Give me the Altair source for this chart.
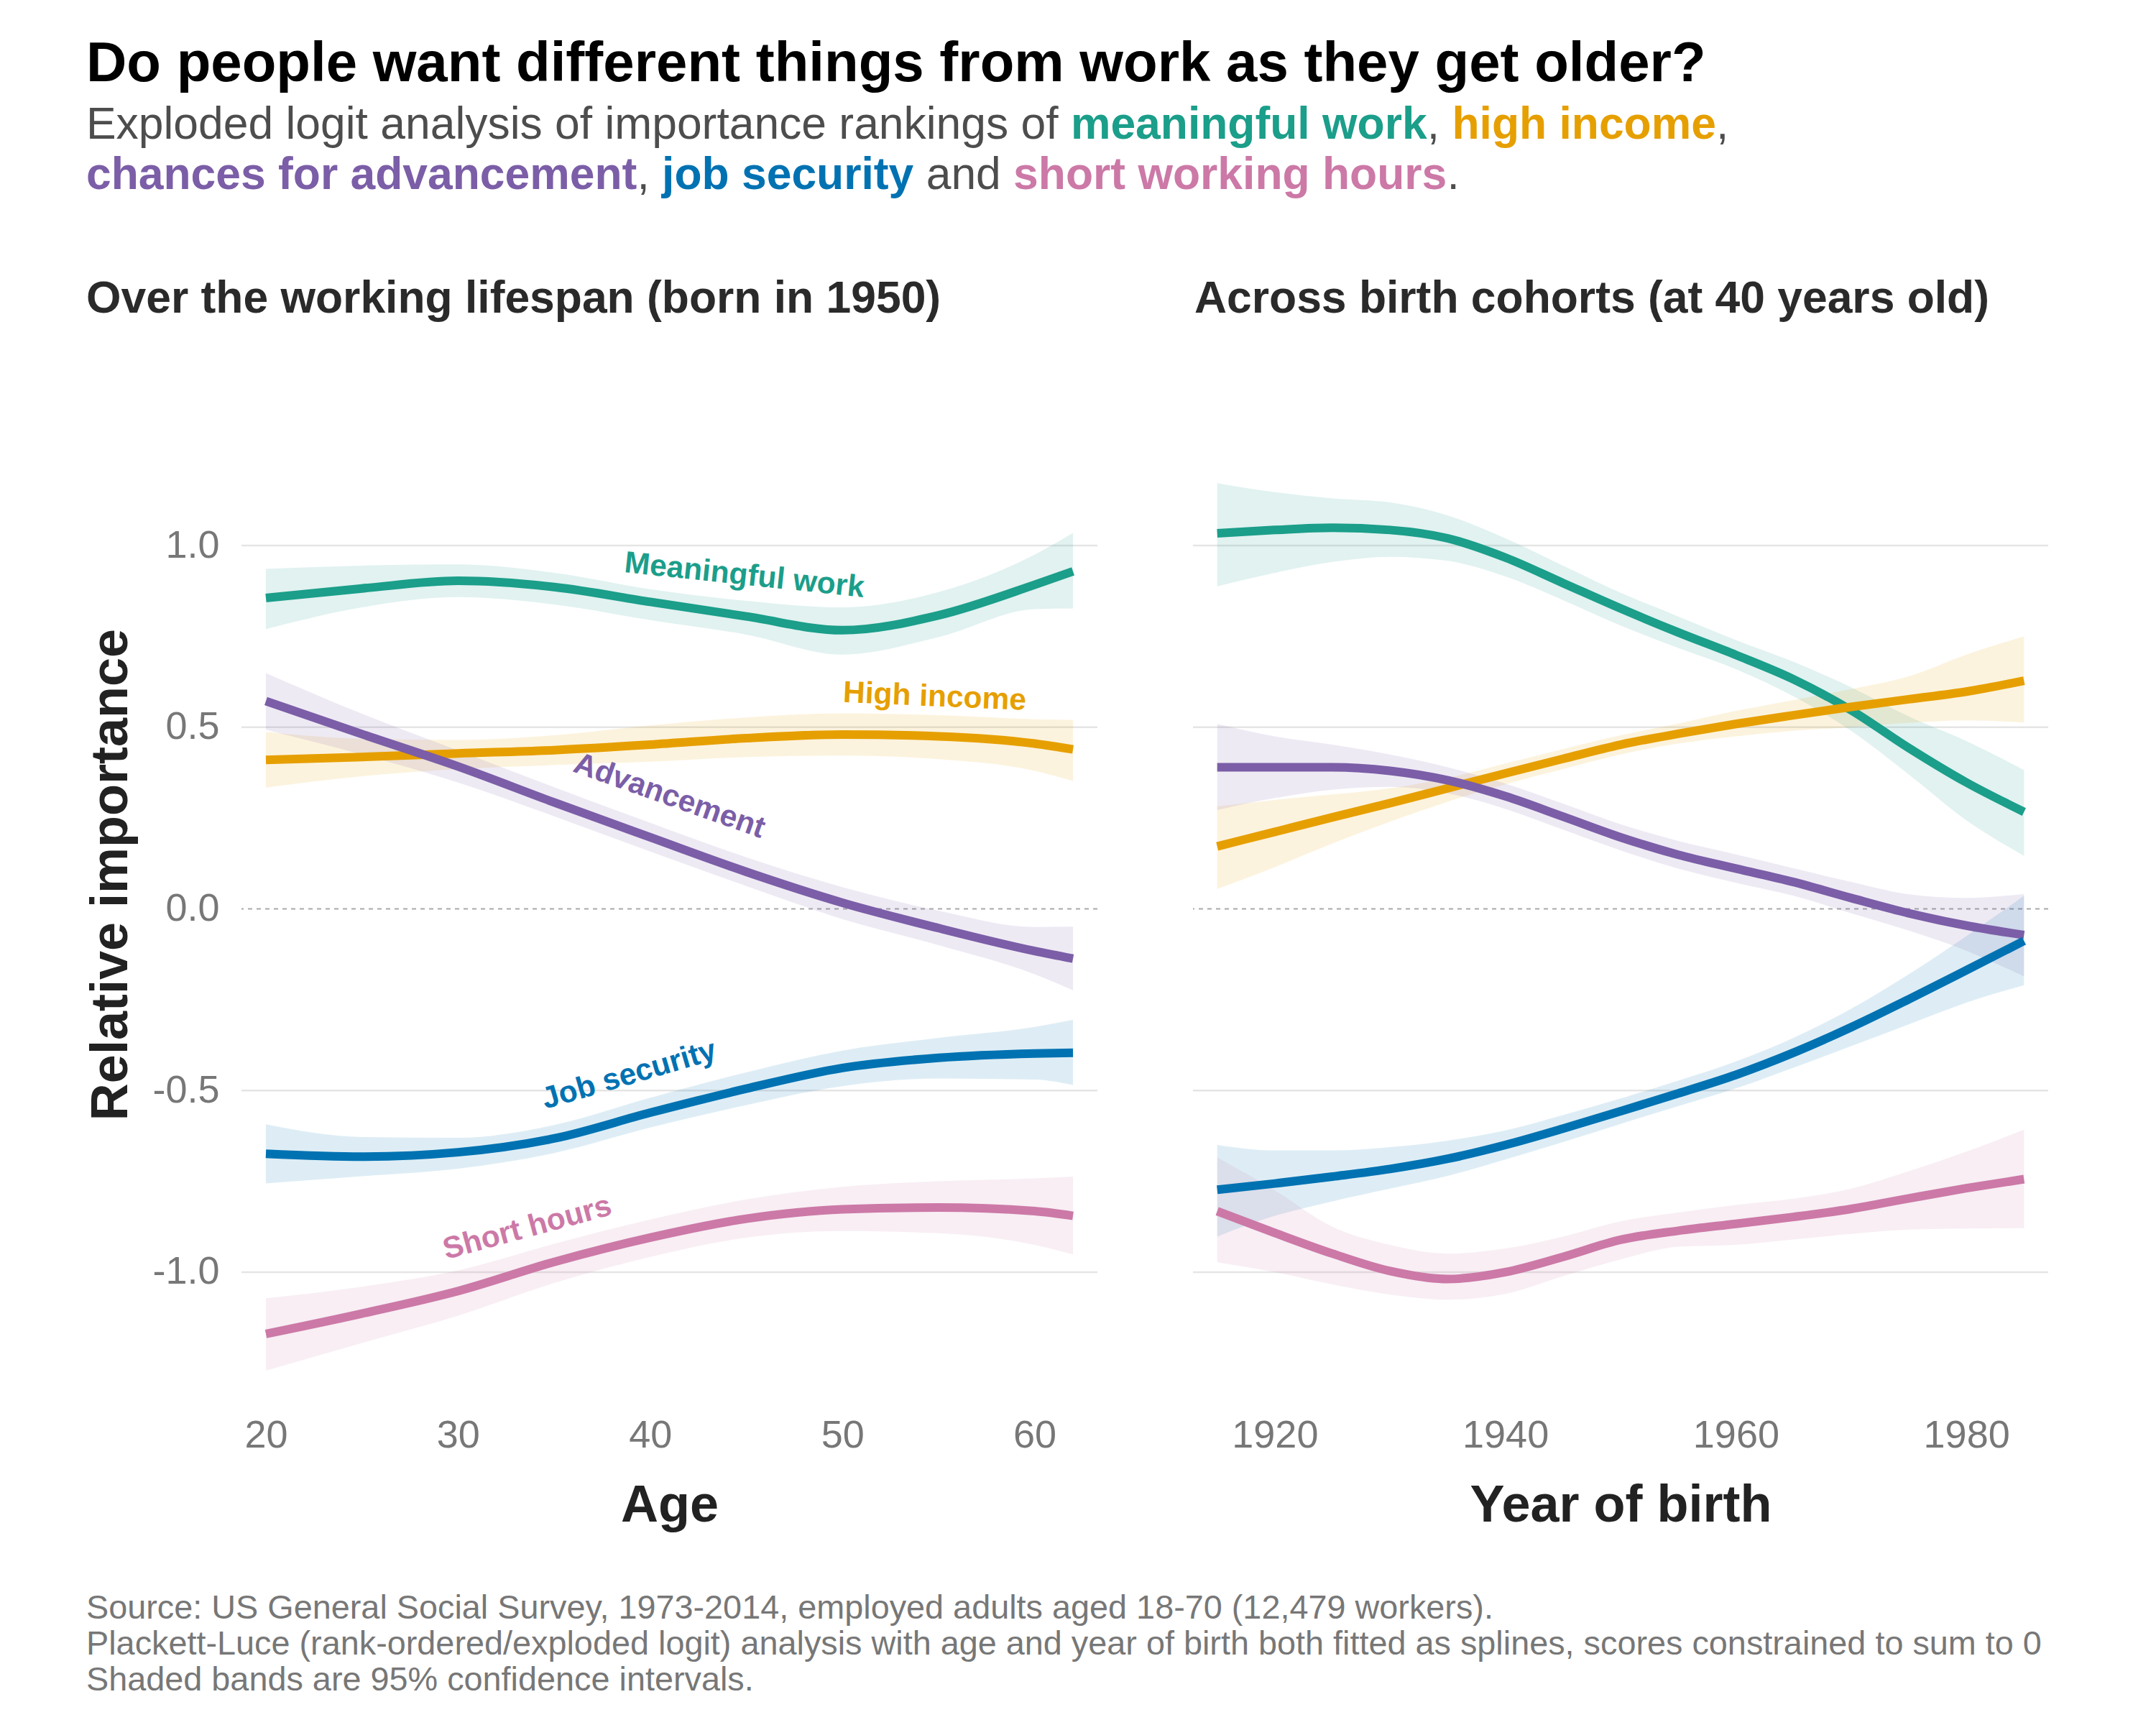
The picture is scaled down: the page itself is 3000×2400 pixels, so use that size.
import altair as alt
import pandas as pd

FONT = "Liberation Sans"

SERIES = ["Meaningful work", "High income", "Advancement", "Job security", "Short hours"]
COLORS = ["#1b9e8a", "#e69f00", "#7b5ea7", "#0072b2", "#cc79a7"]

# ---- Left panel: over the working lifespan (born in 1950) ----
AGES = [20, 25, 30, 35, 40, 45, 50, 55, 60, 62]

AGE_MEANINGFUL = [0.856, 0.882, 0.903, 0.886, 0.845, 0.805, 0.767, 0.808, 0.892, 0.929]
AGE_MEANINGFUL_LO = [0.770, 0.830, 0.858, 0.838, 0.795, 0.755, 0.700, 0.748, 0.825, 0.827]
AGE_MEANINGFUL_HI = [0.936, 0.945, 0.948, 0.925, 0.880, 0.848, 0.830, 0.872, 0.975, 1.035]

AGE_INCOME = [0.410, 0.418, 0.428, 0.437, 0.452, 0.470, 0.480, 0.475, 0.455, 0.439]
AGE_INCOME_LO = [0.334, 0.365, 0.385, 0.396, 0.405, 0.418, 0.422, 0.412, 0.380, 0.352]
AGE_INCOME_HI = [0.487, 0.468, 0.465, 0.478, 0.505, 0.527, 0.538, 0.533, 0.522, 0.520]

AGE_ADVANCE = [0.572, 0.481, 0.392, 0.293, 0.197, 0.102, 0.017, -0.053, -0.116, -0.137]
AGE_ADVANCE_LO = [0.493, 0.425, 0.348, 0.255, 0.158, 0.063, -0.028, -0.100, -0.180, -0.224]
AGE_ADVANCE_HI = [0.649, 0.537, 0.436, 0.335, 0.237, 0.142, 0.060, -0.005, -0.050, -0.049]

AGE_SECURITY = [-0.674, -0.682, -0.670, -0.632, -0.561, -0.495, -0.438, -0.410, -0.398, -0.396]
AGE_SECURITY_LO = [-0.756, -0.736, -0.715, -0.672, -0.602, -0.540, -0.488, -0.467, -0.470, -0.485]
AGE_SECURITY_HI = [-0.593, -0.628, -0.630, -0.595, -0.520, -0.450, -0.390, -0.355, -0.325, -0.305]

AGE_HOURS = [-1.170, -1.114, -1.052, -0.972, -0.905, -0.853, -0.827, -0.822, -0.832, -0.845]
AGE_HOURS_LO = [-1.271, -1.195, -1.120, -1.030, -0.958, -0.905, -0.887, -0.893, -0.925, -0.951]
AGE_HOURS_HI = [-1.072, -1.040, -0.995, -0.922, -0.855, -0.800, -0.765, -0.750, -0.742, -0.737]

# ---- Right panel: across birth cohorts (at 40 years old) ----
YEARS = [1915, 1920, 1925, 1930, 1935, 1940, 1945, 1950, 1955, 1960, 1965, 1970, 1975, 1980, 1985]

YR_MEANINGFUL = [1.034, 1.043, 1.049, 1.043, 1.020, 0.967, 0.897, 0.827, 0.761, 0.699, 0.632, 0.547, 0.443, 0.348, 0.267]
YR_MEANINGFUL_LO = [0.888, 0.925, 0.955, 0.969, 0.958, 0.915, 0.850, 0.780, 0.718, 0.660, 0.585, 0.490, 0.370, 0.244, 0.146]
YR_MEANINGFUL_HI = [1.172, 1.147, 1.130, 1.119, 1.083, 1.020, 0.945, 0.870, 0.805, 0.740, 0.680, 0.610, 0.530, 0.462, 0.382]

YR_INCOME = [0.172, 0.212, 0.252, 0.291, 0.332, 0.373, 0.413, 0.452, 0.482, 0.509, 0.533, 0.556, 0.577, 0.598, 0.628]
YR_INCOME_LO = [0.055, 0.115, 0.180, 0.240, 0.295, 0.343, 0.385, 0.425, 0.455, 0.475, 0.490, 0.500, 0.512, 0.519, 0.513]
YR_INCOME_HI = [0.282, 0.300, 0.315, 0.332, 0.360, 0.400, 0.440, 0.478, 0.510, 0.545, 0.575, 0.605, 0.640, 0.700, 0.750]

YR_ADVANCE = [0.390, 0.390, 0.390, 0.380, 0.354, 0.310, 0.254, 0.197, 0.149, 0.111, 0.074, 0.030, -0.012, -0.046, -0.072]
YR_ADVANCE_LO = [0.272, 0.305, 0.328, 0.336, 0.318, 0.275, 0.218, 0.161, 0.111, 0.072, 0.036, -0.012, -0.060, -0.115, -0.186]
YR_ADVANCE_HI = [0.509, 0.475, 0.452, 0.425, 0.390, 0.345, 0.290, 0.233, 0.187, 0.150, 0.112, 0.074, 0.040, 0.030, 0.041]

YR_SECURITY = [-0.773, -0.756, -0.737, -0.716, -0.688, -0.650, -0.605, -0.557, -0.508, -0.457, -0.396, -0.326, -0.249, -0.169, -0.088]
YR_SECURITY_LO = [-0.902, -0.845, -0.805, -0.770, -0.735, -0.690, -0.642, -0.592, -0.543, -0.494, -0.437, -0.378, -0.318, -0.258, -0.210]
YR_SECURITY_HI = [-0.650, -0.665, -0.665, -0.656, -0.638, -0.610, -0.568, -0.522, -0.473, -0.420, -0.355, -0.275, -0.180, -0.075, 0.036]

YR_HOURS = [-0.832, -0.892, -0.949, -0.997, -1.019, -1.000, -0.958, -0.911, -0.886, -0.867, -0.848, -0.826, -0.797, -0.769, -0.744]
YR_HOURS_LO = [-0.973, -1.000, -1.034, -1.062, -1.076, -1.060, -1.011, -0.965, -0.930, -0.925, -0.910, -0.895, -0.883, -0.880, -0.879]
YR_HOURS_HI = [-0.684, -0.775, -0.875, -0.925, -0.949, -0.935, -0.902, -0.860, -0.836, -0.815, -0.798, -0.770, -0.722, -0.668, -0.608]

# ---- Direct labels on the left panel ----
LABEL_TEXT = SERIES
LABEL_AGE = [44.9, 54.8, 41.0, 38.9, 33.6]
LABEL_VALUE = [0.918, 0.584, 0.311, -0.457, -0.878]
LABEL_ANGLE = [6, 2.5, 19.5, 343.7, 344.9]

Y_TICKS = [-1.0, -0.5, 0.0, 0.5, 1.0]
GRID_VALUES = [-1.0, -0.5, 0.5, 1.0]
AGE_TICKS = [20, 30, 40, 50, 60]
YEAR_TICKS = [1920, 1940, 1960, 1980]

TITLE = "Do people want different things from work as they get older?"
SUB1 = [("Exploded logit analysis of importance rankings of ", False, "#4d4d4d"),
        ("meaningful work", True, COLORS[0]),
        (", ", False, "#4d4d4d"),
        ("high income", True, COLORS[1]),
        (",", False, "#4d4d4d")]
SUB2 = [("chances for advancement", True, COLORS[2]),
        (", ", False, "#4d4d4d"),
        ("job security", True, COLORS[3]),
        (" and ", False, "#4d4d4d"),
        ("short working hours", True, COLORS[4]),
        (".", False, "#4d4d4d")]
LEFT_TITLE = "Over the working lifespan (born in 1950)"
RIGHT_TITLE = "Across birth cohorts (at 40 years old)"
FOOTER = ["Source: US General Social Survey, 1973-2014, employed adults aged 18-70 (12,479 workers).",
          "Plackett-Luce (rank-ordered/exploded logit) analysis with age and year of birth both fitted as splines, scores constrained to sum to 0",
          "Shaded bands are 95% confidence intervals."]

# ---- Helvetica/Arial advance widths (per 1000 em) for laying out the coloured subtitle ----
REG = dict(zip("abcdefghijklmnopqrstuvwxyz",
               [556, 556, 500, 556, 556, 278, 556, 556, 222, 222, 500, 222, 833, 556, 556, 556, 556, 333, 500, 278, 556, 500, 722, 500, 500, 500]))
REG.update(dict(zip("ABCDEFGHIJKLMNOPQRSTUVWXYZ",
                    [667, 667, 722, 722, 667, 611, 778, 722, 278, 500, 667, 556, 833, 722, 778, 667, 778, 722, 667, 611, 722, 667, 944, 667, 667, 611])))
BOLD = dict(zip("abcdefghijklmnopqrstuvwxyz",
                [556, 611, 556, 611, 556, 333, 611, 611, 278, 278, 556, 278, 889, 611, 611, 611, 611, 389, 556, 333, 611, 556, 778, 556, 556, 500]))
BOLD.update(dict(zip("ABCDEFGHIJKLMNOPQRSTUVWXYZ",
                     [722, 722, 722, 722, 667, 611, 778, 722, 278, 556, 722, 611, 833, 722, 778, 667, 778, 722, 667, 611, 722, 667, 944, 667, 667, 611])))
for tbl in (REG, BOLD):
    tbl.update({" ": 278, ",": 278, ".": 278, "-": 333, "(": 333, ")": 333})


def text_width(s, bold, size):
    tbl = BOLD if bold else REG
    return sum(tbl.get(c, 556) for c in s) / 1000.0 * size


# ---- Build long tables ----
def long_frame(xname, xs, fits, los, his):
    rows = []
    for k, (s, f, lo, hi) in enumerate(zip(SERIES, fits, los, his)):
        for x, a, b, c in zip(xs, f, lo, hi):
            rows.append({xname: x, "series": s, "fit": a, "lo": b, "hi": c, "k": k})
    return pd.DataFrame(rows)


age_df = long_frame("age", AGES,
                    [AGE_MEANINGFUL, AGE_INCOME, AGE_ADVANCE, AGE_SECURITY, AGE_HOURS],
                    [AGE_MEANINGFUL_LO, AGE_INCOME_LO, AGE_ADVANCE_LO, AGE_SECURITY_LO, AGE_HOURS_LO],
                    [AGE_MEANINGFUL_HI, AGE_INCOME_HI, AGE_ADVANCE_HI, AGE_SECURITY_HI, AGE_HOURS_HI])
yr_df = long_frame("year", YEARS,
                   [YR_MEANINGFUL, YR_INCOME, YR_ADVANCE, YR_SECURITY, YR_HOURS],
                   [YR_MEANINGFUL_LO, YR_INCOME_LO, YR_ADVANCE_LO, YR_SECURITY_LO, YR_HOURS_LO],
                   [YR_MEANINGFUL_HI, YR_INCOME_HI, YR_ADVANCE_HI, YR_SECURITY_HI, YR_HOURS_HI])
label_df = pd.DataFrame({"series": LABEL_TEXT, "age": LABEL_AGE, "fit": LABEL_VALUE, "angle": LABEL_ANGLE})
grid_df = pd.DataFrame({"g": GRID_VALUES})
zero_df = pd.DataFrame({"g": [0.0]})

# ---- Scales and axes ----
W_LEFT, W_RIGHT, H = 1191, 1190, 1491
yscale = alt.Scale(domain=[-1.38, 1.57], nice=False, zero=False)
color = alt.Color("series:N", scale=alt.Scale(domain=SERIES, range=COLORS), legend=None)

LABEL_GRAY = "#777777"
yaxis_left = alt.Axis(values=Y_TICKS,
                      labelExpr="datum.value < 0 ? '-' + format(-datum.value, '.1f') : format(datum.value, '.1f')",
                      labelFont=FONT, labelFontSize=54, labelColor=LABEL_GRAY, labelPadding=31,
                      ticks=False, tickSize=0, domain=False, grid=False,
                      title="Relative importance", titleFont=FONT, titleFontSize=72,
                      titleFontWeight="bold", titleColor="#222222", titlePadding=20)


def xaxis(ticks, title, fmt):
    return alt.Axis(values=ticks, format=fmt, labelFont=FONT, labelFontSize=54, labelColor=LABEL_GRAY,
                    labelPadding=8, labelFlush=False, ticks=False, tickSize=0, domain=False, grid=False,
                    title=title, titleFont=FONT, titleFontSize=72, titleFontWeight="bold",
                    titleColor="#222222", titlePadding=35)


def text_layer(txt, x, y, size, col, bold=False):
    return alt.Chart(pd.DataFrame({"t": [txt]})).mark_text(
        align="left", baseline="alphabetic", font=FONT, fontSize=size,
        fontWeight="bold" if bold else "normal", color=col
    ).encode(x=alt.value(x), y=alt.value(y), text="t:N")


def panel(df, xname, xdomain, xax, yax, width, with_labels):
    xenc = alt.X(f"{xname}:Q", scale=alt.Scale(domain=xdomain, nice=False, zero=False), axis=xax)

    def yenc(field):
        return alt.Y(f"{field}:Q", scale=yscale, axis=yax)

    grid = alt.Chart(grid_df).mark_rule(color="#e5e5e5", strokeWidth=2.5).encode(y=yenc("g"))
    zero = alt.Chart(zero_df).mark_rule(color="#aaaaaa", strokeWidth=2, strokeDash=[6, 6]).encode(y=yenc("g"))
    bands = alt.Chart(df).mark_area(fillOpacity=0.13, interpolate="monotone").encode(
        x=xenc, y=yenc("lo"), y2="hi:Q", color=color, order="k:Q")
    lines = alt.Chart(df).mark_line(strokeWidth=12, interpolate="monotone").encode(
        x=xenc, y=yenc("fit"), color=color, detail="series:N")
    layers = [grid, zero, bands, lines]
    if with_labels:
        labels = alt.Chart(label_df).mark_text(
            font=FONT, fontSize=42.5, fontWeight="bold", align="center", baseline="middle"
        ).encode(x=xenc, y=yenc("fit"), text="series:N", color=color,
                 angle=alt.Angle("angle:Q", scale=None))
        layers.append(labels)
    return layers


# ---- Left panel with header and footer texts (positions relative to its plot origin) ----
left_layers = panel(age_df, "age", [18.73, 63.27], xaxis(AGE_TICKS, "Age", "d"), yaxis_left, W_LEFT, True)

X0 = -216  # left text margin relative to left plot area
left_layers.append(text_layer(TITLE, X0, -358, 78, "#000000", True))
for segs, base in ((SUB1, -278), (SUB2, -208)):
    x = X0
    for s, bold, col in segs:
        lead = len(s) - len(s.lstrip(" "))
        layer_x = x + text_width(" " * lead, bold, 62.4)
        left_layers.append(text_layer(s.strip(" "), layer_x, base, 62.4, col, bold))
        x += text_width(s, bold, 62.4)
left_layers.append(text_layer(LEFT_TITLE, X0, -36, 62.4, "#2a2a2a", True))
for i, line in enumerate(FOOTER):
    left_layers.append(text_layer(line, X0, 1781 + 50 * i, 46.8, LABEL_GRAY))

anchor = alt.Chart(pd.DataFrame({"a": [0]})).mark_rule(strokeWidth=0.5, opacity=0).encode(
    x=alt.value(-328), x2=alt.value(-327.5), y=alt.value(-463), y2=alt.value(-463))
left_layers.append(anchor)

left = alt.layer(*left_layers).properties(width=W_LEFT, height=H)

right_layers = panel(yr_df, "year", [1912.9, 1987.1], xaxis(YEAR_TICKS, "Year of birth", "d"), None, W_RIGHT, False)
right_layers.append(text_layer(RIGHT_TITLE, 2, -36, 62.4, "#2a2a2a", True))
right = alt.layer(*right_layers).properties(width=W_RIGHT, height=H)

chart = alt.hconcat(left, right, spacing=133, bounds="flush").properties(
    padding=0, background="white"
).configure_view(stroke=None).resolve_scale(color="shared")

chart.save("out.html", embed_options={"renderer": "svg", "actions": False})
